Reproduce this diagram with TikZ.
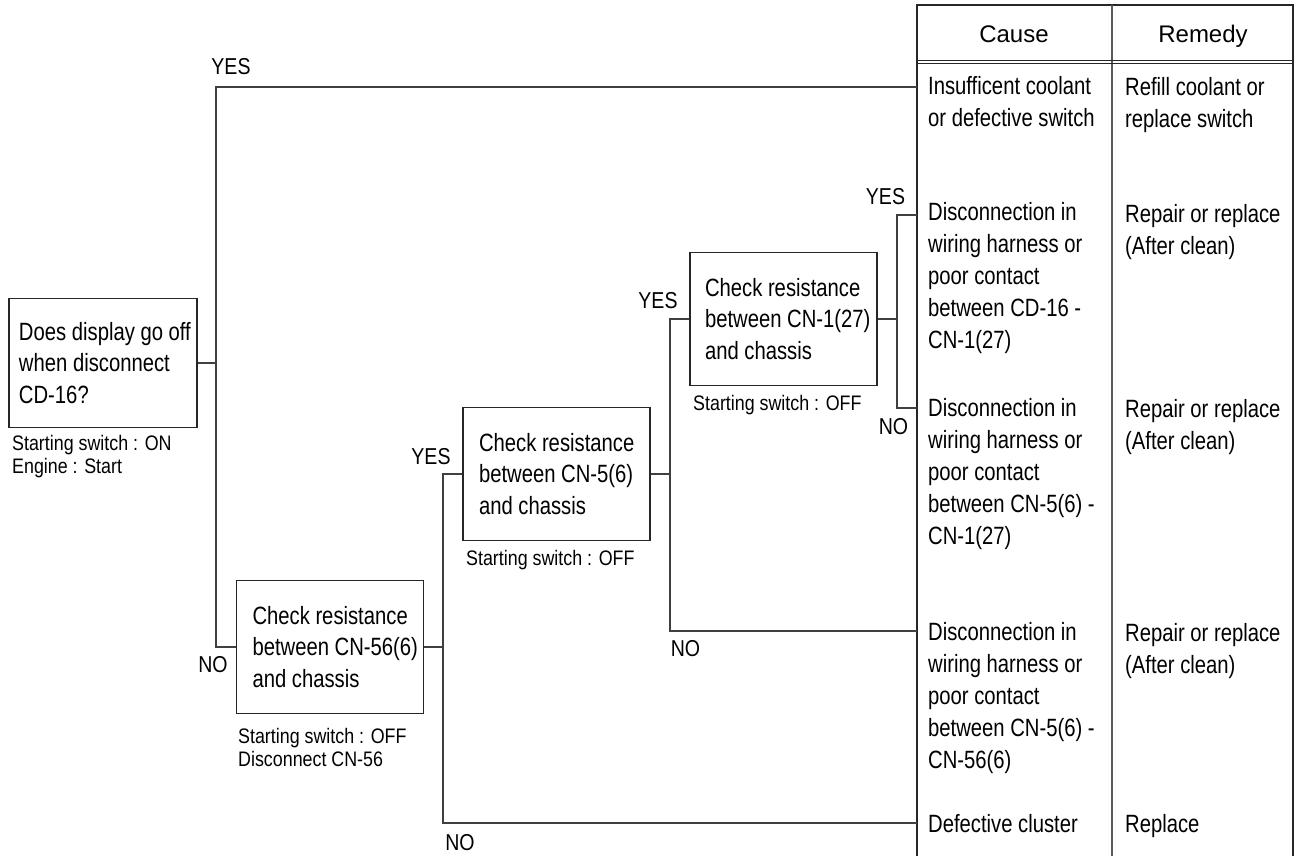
\documentclass[tikz,border=0pt]{standalone}
\usepackage{fontspec}
\setmainfont[FakeStretch=0.81]{Liberation Sans}
\newfontfamily\smallf[FakeStretch=0.85]{Liberation Sans}
\newfontfamily\hdrfont{Liberation Sans}
\begin{document}
\begin{tikzpicture}[x=1pt,y=-1pt,
  conn/.style={line width=1.1pt, draw=black!75},
  tbl/.style={line width=1.5pt, draw=black!85},
  qbox/.style={draw=black!85, line width=1.5pt, rectangle, inner xsep=16pt, inner ysep=0pt, text width=155pt, minimum height=133pt, align=flush left, font=\fontsize{25}{31.5}\selectfont},
  note/.style={inner sep=0pt, anchor=west, align=flush left, font=\smallf\fontsize{21}{23}\selectfont},
  lbl/.style={inner sep=0pt, font=\smallf\fontsize{23}{26}\selectfont},
  cell/.style={inner sep=0pt, anchor=west, align=flush left, font=\fontsize{25}{32}\selectfont},
  hdr/.style={inner sep=0pt, anchor=base, font=\hdrfont\fontsize{24}{28}\selectfont}]
\useasboundingbox (0,0) rectangle (1301,856);

% question boxes
\node[qbox, inner xsep=10pt, text width=168pt, minimum height=129pt] (b1) at (103,363) {\mbox{Does display go off}\\\mbox{when disconnect}\\\mbox{CD-16?}};
\node[qbox] (b2) at (330,647) {\mbox{Check resistance}\\\mbox{between CN-56(6)}\\\mbox{and chassis}};
\node[qbox] (b3) at (556.5,474) {\mbox{Check resistance}\\\mbox{between CN-5(6)}\\\mbox{and chassis}};
\node[qbox, inner xsep=15pt, text width=157pt] (b4) at (783.5,319) {\mbox{Check resistance}\\\mbox{between CN-1(27)}\\\mbox{and chassis}};

% notes
\node[note] (n1) at (12,457) {Starting switch : ON\\Engine : Start};
\node[note] (n2) at (238,747) {Starting switch : OFF\\Disconnect CN-56};
\node[note] (n3) at (466,560) {Starting switch : OFF};
\node[note] (n4) at (693,405) {Starting switch : OFF};

% labels
\node[lbl] (y1) at (231,67) {YES};
\node[lbl] (no1) at (213,665) {NO};
\node[lbl] (y2) at (431,457) {YES};
\node[lbl] (no2) at (460,843) {NO};
\node[lbl] (y3) at (658,301) {YES};
\node[lbl] (no3) at (685.5,649) {NO};
\node[lbl] (y4) at (885.5,197) {YES};
\node[lbl] (no4) at (893.5,427) {NO};

% table
\draw[tbl] (917,856) -- (917,5) -- (1293,5) -- (1293,856);
\draw[tbl, line width=1.1pt, draw=black!65] (1112,5) -- (1112,856);
\draw[tbl, line width=1pt] (917,60.5) -- (1293,60.5);
\draw[tbl, line width=1pt] (917,64) -- (1293,64);
\node[hdr] (hc) at (1014,43) {Cause};
\node[hdr] (hr) at (1203,43) {Remedy};

\node[cell] (c1) at (928,102) {Insufficent coolant\\or defective switch};
\node[cell] (c2) at (928,278) {Disconnection in\\wiring harness or\\poor contact\\between CD-16 -\\CN-1(27)};
\node[cell] (c3) at (928,474) {Disconnection in\\wiring harness or\\poor contact\\between CN-5(6) -\\CN-1(27)};
\node[cell] (c4) at (928,698) {Disconnection in\\wiring harness or\\poor contact\\between CN-5(6) -\\CN-56(6)};
\node[cell] (c5) at (928,824) {Defective cluster};

\node[cell] (m1) at (1125,105) {Refill coolant or\\replace switch};
\node[cell] (m2) at (1125,232) {Repair or replace\\(After clean)};
\node[cell] (m3) at (1125,427) {Repair or replace\\(After clean)};
\node[cell] (m4) at (1125,651) {Repair or replace\\(After clean)};
\node[cell] (m5) at (1125,826) {Replace};

% connector endpoints
\coordinate (r1) at (917,87);
\coordinate (r2) at (917,215);
\coordinate (r3) at (917,408);
\coordinate (r4) at (917,631);
\coordinate (r5) at (917,823);
\coordinate (j1) at (216,363);
\coordinate (j2) at (443,647);
\coordinate (j3) at (670,474);
\coordinate (j4) at (897,319);

\draw[conn] (b1.east) -- (j1) |- (r1);
\draw[conn] (j1) |- (b2.west);
\draw[conn] (b2.east) -- (j2) |- (b3.west);
\draw[conn] (j2) |- (r5);
\draw[conn] (b3.east) -- (j3) |- (b4.west);
\draw[conn] (j3) |- (r4);
\draw[conn] (b4.east) -- (j4) |- (r2);
\draw[conn] (j4) |- (r3);
\end{tikzpicture}
\end{document}
